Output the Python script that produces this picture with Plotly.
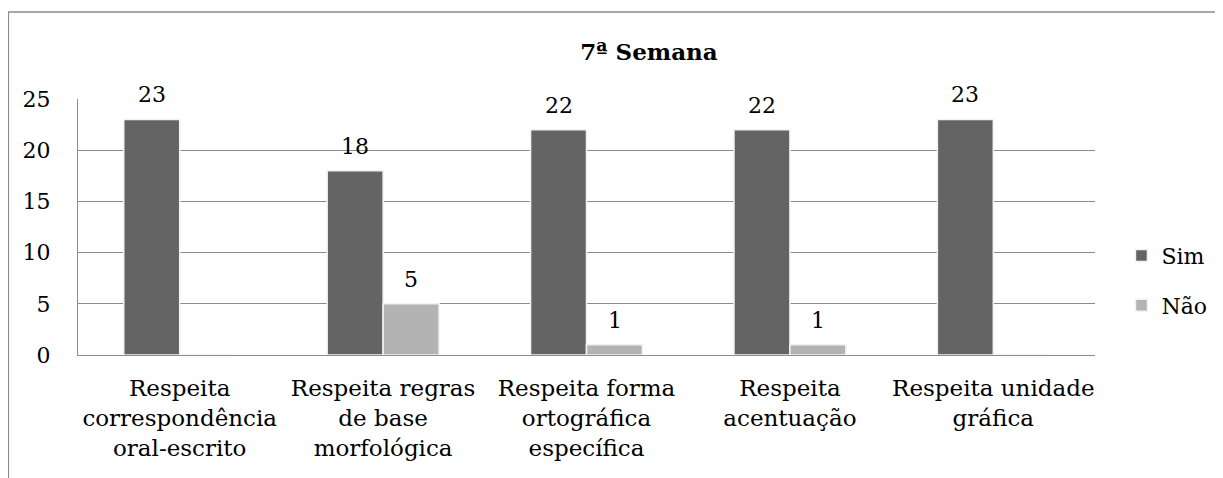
import plotly.graph_objects as go

categories = [
    "Respeita<br>correspondência<br>oral-escrito",
    "Respeita regras<br>de base<br>morfológica",
    "Respeita forma<br>ortográfica<br>específica",
    "Respeita<br>acentuação",
    "Respeita unidade<br>gráfica",
]
sim_values = [23, 18, 22, 22, 23]
nao_values = [0, 5, 1, 1, 0]
y_ticks = [0, 5, 10, 15, 20, 25]

font_family = "DejaVu Serif"
sim_color = "#646464"
nao_color = "#b3b3b3"
grid_color = "#8c8c8c"

fig = go.Figure()
fig.add_trace(go.Bar(
    x=categories, y=sim_values, name="Sim", legendgroup="sim",
    marker=dict(color=sim_color, line=dict(color="#f2f2f2", width=1.5)),
))
fig.add_trace(go.Bar(
    x=categories, y=nao_values, name="Não", legendgroup="nao",
    marker=dict(color=nao_color, line=dict(color="#f2f2f2", width=1.5)),
))

# data labels above bars (zero values get no label)
for vals, shift in [(sim_values, -28), (nao_values, 28)]:
    for cat, v in zip(categories, vals):
        if v == 0:
            continue
        fig.add_annotation(
            x=cat, y=v, text=str(v), showarrow=False, xref="x", yref="y",
            xshift=shift, yshift=10, yanchor="bottom",
            font=dict(family=font_family, size=22, color="black"),
        )

# outer chart border
fig.add_shape(
    type="rect", xref="paper", yref="paper",
    x0=-0.0685, x1=1.4, y0=-0.6, y1=1.34,
    line=dict(color="#8c8c8c", width=1.5), layer="below",
)

# page adds an 8px body margin, so the figure is 8px smaller and shifted
fig.update_layout(
    width=1215, height=470,
    margin=dict(l=70, r=127, t=91, b=123),
    paper_bgcolor="white", plot_bgcolor="white",
    barmode="group", bargap=0.45, bargroupgap=0,
    font=dict(family=font_family, size=22, color="black"),
    title=dict(
        text="<b>7ª Semana</b>", x=0.5276, y=0.906, xanchor="center", yanchor="middle",
        font=dict(family=font_family, size=23, color="black"),
    ),
    legend=dict(
        x=1.025, y=0.29, xanchor="left", yanchor="middle",
        tracegroupgap=18, font=dict(size=22), bgcolor="rgba(0,0,0,0)",
    ),
    showlegend=True,
)
fig.update_yaxes(
    range=[0, 25], tickvals=y_ticks, showgrid=True, gridcolor=grid_color, gridwidth=1.2,
    showline=True, linecolor=grid_color, linewidth=1.2, zeroline=False,
    ticks="", ticklabelstandoff=22, tickfont=dict(size=22), automargin=False,
)
fig.update_xaxes(
    showline=True, linecolor=grid_color, linewidth=1.2, ticks="",
    ticklabelstandoff=12, tickfont=dict(size=23), tickangle=0, automargin=False,
)

fig.write_html("out.html")
